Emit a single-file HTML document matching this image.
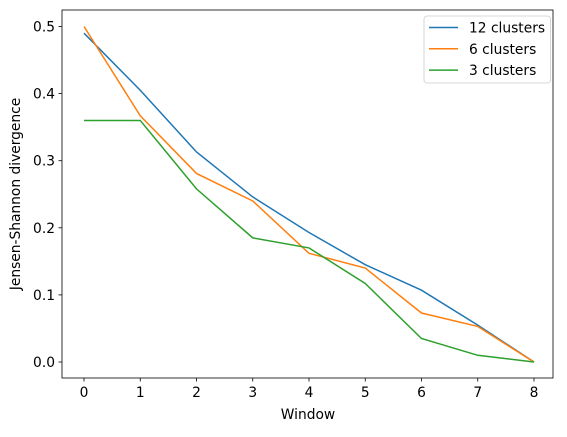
<!DOCTYPE html>
<html><head><meta charset="utf-8"><style>
body{margin:0;background:#fff;}
text{font-family:"DejaVu Sans","Liberation Sans",sans-serif;font-size:13.8px;fill:#000;}
</style></head><body>
<svg id="chart" width="567" height="432">
<rect x="62" y="10" width="491" height="368" fill="none" stroke="#000" stroke-width="0.8"/>
<g id="axes"></g>
<g id="series"></g>
<text x="308" y="419" text-anchor="middle">Window</text>
<text transform="translate(20,194) rotate(-90)" text-anchor="middle">Jensen-Shannon divergence</text>
<g>
<rect x="424" y="16" width="126.5" height="67" rx="3" fill="#fff" fill-opacity="0.8" stroke="#ccc" stroke-width="0.8"/>
<g id="legend"></g>
</g>
</svg>
<script>
const windows=[0,1,2,3,4,5,6,7,8];
const s12=[0.49,0.405,0.313,0.246,0.193,0.145,0.107,0.055,0.0];
const s6=[0.50,0.367,0.281,0.24,0.162,0.14,0.073,0.053,0.0];
const s3=[0.36,0.36,0.258,0.185,0.17,0.117,0.035,0.01,0.0];
const seriesNames=["12 clusters","6 clusters","3 clusters"];
const yTicks=[0.0,0.1,0.2,0.3,0.4,0.5];
const xTicks=[0,1,2,3,4,5,6,7,8];
const colors=["#1f77b4","#ff7f0e","#2ca02c"];
const NS="http://www.w3.org/2000/svg";
const X=v=>84+v*56.25, Y=v=>362-v*671;
const ax=document.getElementById('axes');
function mk(t,a,p){const e=document.createElementNS(NS,t);for(const k in a)e.setAttribute(k,a[k]);p.appendChild(e);return e;}
xTicks.forEach(t=>{
 const g=mk('g',{},ax);
 
 
 mk('line',{x1:X(t),x2:X(t),y1:378,y2:381.5,stroke:'#000','stroke-width':0.8},g);
 const tx=mk('text',{x:X(t),y:397,'text-anchor':'middle'},g);tx.textContent=t;
});
yTicks.forEach(t=>{
 const g=mk('g',{},ax);
 
 
 mk('line',{x1:58.5,x2:62,y1:Y(t),y2:Y(t),stroke:'#000','stroke-width':0.8},g);
 const tx=mk('text',{x:55,y:Y(t)+5,'text-anchor':'end'},g);tx.textContent=t.toFixed(1);
});
const sg=document.getElementById('series');
[s12,s6,s3].forEach((s,i)=>{
 const p=mk('polyline',{points:s.map((v,j)=>X(windows[j])+','+Y(v)).join(' '),fill:'none',stroke:colors[i],'stroke-width':1.5},sg);
 
 
});
const lg=document.getElementById('legend');
seriesNames.forEach((n,i)=>{
 const g=mk('g',{},lg);
 
 
 const y=27.5+i*21.3;
 mk('line',{x1:429,x2:458,y1:y,y2:y,stroke:colors[i],'stroke-width':1.5},g);
 const t=mk('text',{x:469,y:y+5},g);t.textContent=n;
});
</script>
</body></html>
